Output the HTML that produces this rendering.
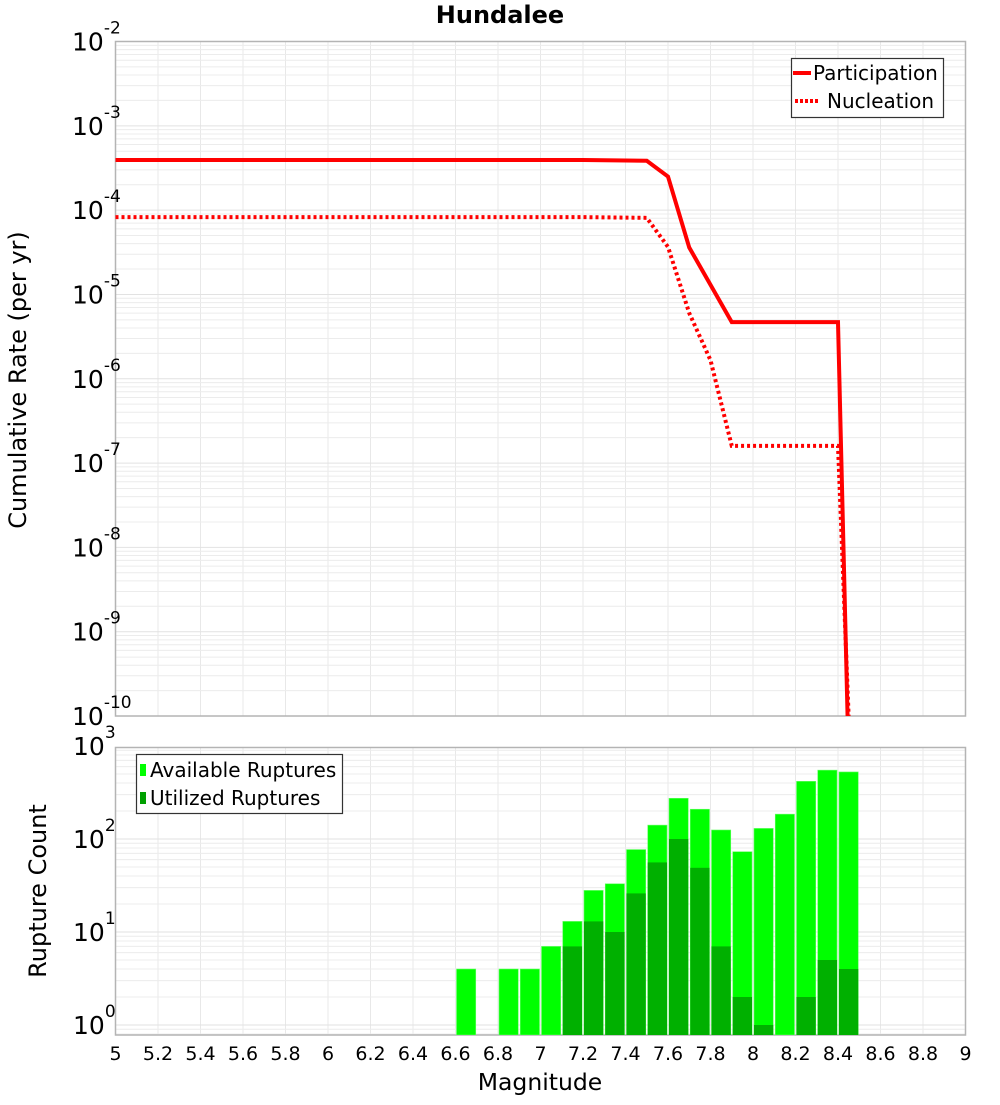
<!DOCTYPE html>
<html><head><meta charset="utf-8"><style>
body{margin:0;background:#fff;}
svg text{font-family:"DejaVu Sans","Liberation Sans",sans-serif;fill:#000;}
</style></head><body>
<svg id="chart" width="1000" height="1100" viewBox="0 0 1000 1100" xmlns="http://www.w3.org/2000/svg"></svg>
<script>
// ---- data ----
const partMags = [5.0, 7.2, 7.5, 7.6, 7.7, 7.9, 8.4, 8.445];
const partRates = [3.93e-4, 3.93e-4, 3.85e-4, 2.5e-4, 3.6e-5, 4.7e-6, 4.7e-6, 1e-10];
const nuclMags = [5.0, 7.2, 7.5, 7.6, 7.7, 7.8, 7.9, 8.4, 8.45];
const nuclRates = [8.26e-5, 8.26e-5, 8.1e-5, 3.66e-5, 6.0e-6, 1.66e-6, 1.6e-7, 1.6e-7, 1e-10];
const binCenters = [6.65, 6.85, 6.95, 7.05, 7.15, 7.25, 7.35, 7.45, 7.55, 7.65, 7.75, 7.85, 7.95, 8.05, 8.15, 8.25, 8.35, 8.45];
const availableCounts = [4, 4, 4, 7, 13, 28, 33, 77, 141, 274, 209, 125, 73, 130, 185, 417, 550, 526];
const utilizedCounts = [0, 0, 0, 0, 7, 13, 10, 26, 56, 100, 49, 7, 2, 1, 0, 2, 5, 4];
const xTicks = [5, 5.2, 5.4, 5.6, 5.8, 6, 6.2, 6.4, 6.6, 6.8, 7, 7.2, 7.4, 7.6, 7.8, 8, 8.2, 8.4, 8.6, 8.8, 9];
const topExps = [-10, -9, -8, -7, -6, -5, -4, -3, -2];
const botExps = [0, 1, 2, 3];

const NS = "http://www.w3.org/2000/svg";
const svg = document.getElementById('chart');
function el(tag, attrs, parent, text) {
  const e = document.createElementNS(NS, tag);
  for (const k in attrs) e.setAttribute(k, attrs[k]);
  if (text !== undefined) e.textContent = text;
  (parent || svg).appendChild(e);
  return e;
}
const L = 115.5, R = 965.5;
const T1 = 41.5, B1 = 716;
const T2 = 747.5, B2 = 1035;
const xS = m => L + (m - 5) / 4 * (R - L);
const yTop = v => T1 + (-2 - Math.log10(v)) / 8 * (B1 - T1);
const DEC2 = 93;
const yBot = v => 1025 - Math.log10(v) * DEC2;

const defs = el('defs', {});
const cp1 = el('clipPath', {id: 'clipTop'}, defs);
el('rect', {x: L, y: T1, width: R - L, height: B1 - T1}, cp1);
const cp2 = el('clipPath', {id: 'clipBot'}, defs);
el('rect', {x: L, y: T2, width: R - L, height: B2 - T2}, cp2);

// title
const title = el('text', {x: 500, y: 23, 'font-size': 24, 'font-weight': 'bold', 'text-anchor': 'middle'}, svg, 'Hundalee');



function grid(top, bot, yfn, exps, clip, name) {
  const g = el('g', {'clip-path': 'url(#' + clip + ')'});
  
  
  for (let m = 5; m <= 9.001; m += 0.2) {
    el('line', {x1: xS(m), x2: xS(m), y1: top, y2: bot, stroke: '#e8e8e8', 'stroke-width': 1}, g);
  }
  for (let e = exps[0] - 1; e <= exps[exps.length - 1]; e++) {
    for (let k = 1; k <= 9; k++) {
      const y = yfn(k * Math.pow(10, e));
      if (y < top - 1 || y > bot + 1) continue;
      el('line', {x1: L, x2: R, y1: y, y2: y, stroke: k === 1 ? '#e2e2e2' : '#ececec', 'stroke-width': 1}, g);
    }
  }
  const frame = el('rect', {x: L, y: top, width: R - L, height: bot - top, fill: 'none', stroke: '#b4b4b4', 'stroke-width': 1.5});
  
  
}
grid(T1, B1, yTop, topExps, 'clipTop', 'top-grid');
grid(T2, B2, yBot, botExps, 'clipBot', 'bottom-grid');

// y tick labels
topExps.forEach(e => {
  const y = yTop(Math.pow(10, e));
  const t = el('text', {x: 72, y: y + 9, 'font-size': 25}, svg);
  
  
  el('tspan', {}, t, '10');
  el('tspan', {dy: -17, 'font-size': 17}, t, String(e));
});
botExps.forEach(e => {
  const y = yBot(Math.pow(10, e));
  const t = el('text', {x: 73, y: y + 9, 'font-size': 25}, svg);
  
  
  el('tspan', {}, t, '10');
  el('tspan', {dy: -17, 'font-size': 17}, t, String(e));
});
// axis titles
const yt1 = el('text', {x: 26, y: 380, 'font-size': 24, 'text-anchor': 'middle', transform: 'rotate(-90 26 380)'}, svg, 'Cumulative Rate (per yr)');


const yt2 = el('text', {x: 46, y: 891, 'font-size': 24, 'text-anchor': 'middle', transform: 'rotate(-90 46 891)'}, svg, 'Rupture Count');


xTicks.forEach(m => {
  const t = el('text', {x: xS(m), y: 1060, 'font-size': 19, 'text-anchor': 'middle'}, svg, String(m));
  
  
});
const xt = el('text', {x: 540, y: 1090, 'font-size': 23.5, 'text-anchor': 'middle'}, svg, 'Magnitude');



// lines
const gl = el('g', {'clip-path': 'url(#clipTop)'});
const p1 = el('polyline', {points: partMags.map((m, i) => xS(m) + ',' + yTop(partRates[i])).join(' '), fill: 'none', stroke: '#ff0000', 'stroke-width': 4, 'stroke-linejoin': 'miter'}, gl);


const p2 = el('polyline', {points: nuclMags.map((m, i) => xS(m) + ',' + yTop(nuclRates[i])).join(' '), fill: 'none', stroke: '#ff0000', 'stroke-width': 4, 'stroke-dasharray': '3,3'}, gl);



// top legend
const lg = el('g', {});


el('rect', {x: 791.5, y: 58.5, width: 152, height: 59, fill: '#fff', stroke: '#333', 'stroke-width': 1.2}, lg);
el('line', {x1: 793, x2: 811, y1: 73, y2: 73, stroke: '#ff0000', 'stroke-width': 4}, lg);
el('text', {x: 813, y: 80, 'font-size': 20}, lg, 'Participation');
el('line', {x1: 795, x2: 820, y1: 101, y2: 101, stroke: '#ff0000', 'stroke-width': 4, 'stroke-dasharray': '3,2'}, lg);
el('text', {x: 827, y: 108, 'font-size': 20}, lg, 'Nucleation');

// bars
const gb = el('g', {'clip-path': 'url(#clipBot)'});
const bw = xS(0.1) - xS(0) - 2;
binCenters.forEach((c, i) => {
  if (availableCounts[i] > 0) {
    const y = yBot(availableCounts[i]);
    const r = el('rect', {x: xS(c) - bw / 2, y: y, width: bw, height: B2 - y, fill: '#00ff00', stroke: '#66ff66', 'stroke-width': 0.6}, gb);
    
    
  }
  if (utilizedCounts[i] > 0) {
    const y = yBot(utilizedCounts[i]);
    const r = el('rect', {x: xS(c) - bw / 2, y: y, width: bw, height: B2 - y, fill: '#00b000'}, gb);
    
    
  }
});

// bottom legend
const lg2 = el('g', {});


el('rect', {x: 136.5, y: 754.5, width: 206, height: 59, fill: '#fff', stroke: '#333', 'stroke-width': 1.2}, lg2);
el('rect', {x: 140, y: 764, width: 6, height: 12, fill: '#00ff00'}, lg2);
el('text', {x: 150, y: 777, 'font-size': 20}, lg2, 'Available Ruptures');
el('rect', {x: 140, y: 792, width: 6, height: 12, fill: '#00a000'}, lg2);
el('text', {x: 150, y: 805, 'font-size': 20}, lg2, 'Utilized Ruptures');
</script>
</body></html>
